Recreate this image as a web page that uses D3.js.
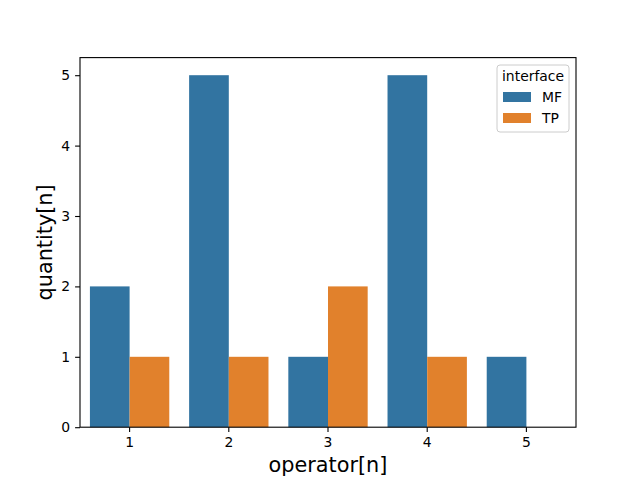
<!DOCTYPE html>
<html>
<head>
<meta charset="utf-8">
<script src="https://cdn.jsdelivr.net/npm/d3@7"></script>
<style>
  body { margin: 0; background: #fff; }
  text { font-family: "DejaVu Sans", sans-serif; fill: #000; }
</style>
</head>
<body>
<div id="wrapper"></div>
<script>
// data
const operators = ['1', '2', '3', '4', '5']
const interfaces = ['MF', 'TP']
const mfValues = [2, 5, 1, 5, 1]
const tpValues = [1, 1, 2, 1, 0]
const yTicks = [0, 1, 2, 3, 4, 5]
const colors = ['#3274a1', '#e1812c']

const rows = operators.flatMap((op, i) => [
  { op, iface: 'MF', value: mfValues[i] },
  { op, iface: 'TP', value: tpValues[i] },
])

const dimensions = {
  width: 640,
  height: 480,
  margin: { top: 57.6, right: 64, bottom: 52.8, left: 80 },
}
dimensions.boundedWidth = dimensions.width - dimensions.margin.left - dimensions.margin.right
dimensions.boundedHeight = dimensions.height - dimensions.margin.top - dimensions.margin.bottom

const wrapper = d3.select('#wrapper')
  .append('svg')
  .attr('width', dimensions.width)
  .attr('height', dimensions.height)

const bounds = wrapper.append('g')
  .attr('transform', `translate(${dimensions.margin.left},${dimensions.margin.top})`)

// scales
const xScale = d3.scaleBand()
  .domain(operators)
  .range([0, dimensions.boundedWidth])
  .paddingInner(0.2)
  .paddingOuter(0.1)

const hueScale = d3.scaleBand()
  .domain(interfaces)
  .range([0, xScale.bandwidth()])

const colorScale = d3.scaleOrdinal().domain(interfaces).range(colors)

const yScale = d3.scaleLinear()
  .domain([0, 5.25])
  .range([dimensions.boundedHeight, 0])

// bars
bounds.selectAll('.bar')
  .data(rows)
  .join('rect')
  .attr('class', 'bar')
  .attr('x', (d) => xScale(d.op) + hueScale(d.iface))
  .attr('width', hueScale.bandwidth())
  .attr('y', (d) => yScale(d.value))
  .attr('height', (d) => dimensions.boundedHeight - yScale(d.value))
  .attr('fill', (d) => colorScale(d.iface))

// axes
const xAxis = bounds.append('g')
  .attr('transform', `translate(0,${dimensions.boundedHeight})`)
  .call(d3.axisBottom(xScale).tickSizeOuter(0).tickSize(4.9).tickPadding(4.9))
const yAxis = bounds.append('g')
  .call(d3.axisLeft(yScale).tickValues(yTicks).tickFormat(d3.format('d')).tickSize(4.9).tickPadding(4.9).tickSizeOuter(0))

;[xAxis, yAxis].forEach((ax) => {
  ax.select('.domain').remove()
  ax.selectAll('line').attr('stroke', '#000').attr('stroke-width', 1.1)
  ax.selectAll('text').style('font-size', '13.9px').style('font-family', '"DejaVu Sans", sans-serif')
})

// frame
bounds.append('rect')
  .attr('width', dimensions.boundedWidth)
  .attr('height', dimensions.boundedHeight)
  .attr('fill', 'none')
  .attr('stroke', '#000')
  .attr('stroke-width', 1.1)

// axis labels
wrapper.append('text')
  .attr('x', dimensions.margin.left + dimensions.boundedWidth / 2)
  .attr('y', 472)
  .attr('text-anchor', 'middle')
  .style('font-size', '20.8px')
  .text('operator[n]')

wrapper.append('text')
  .attr('transform', `translate(52,${dimensions.margin.top + dimensions.boundedHeight / 2}) rotate(-90)`)
  .attr('text-anchor', 'middle')
  .style('font-size', '20.8px')
  .text('quantity[n]')

// legend
const legend = wrapper.append('g').attr('transform', 'translate(497,65)')
legend.append('rect')
  .attr('width', 72).attr('height', 67)
  .attr('rx', 3)
  .attr('fill', '#fff').attr('fill-opacity', 0.8)
  .attr('stroke', '#ccc').attr('stroke-width', 1)
legend.append('text')
  .attr('x', 36).attr('y', 16)
  .attr('text-anchor', 'middle')
  .style('font-size', '13.9px')
  .text('interface')
const items = legend.selectAll('.item')
  .data(interfaces)
  .join('g')
  .attr('transform', (d, i) => `translate(6,${27 + i * 21})`)
items.append('rect')
  .attr('width', 28).attr('height', 10)
  .attr('fill', (d) => colorScale(d))
items.append('text')
  .attr('x', 39).attr('y', 10)
  .style('font-size', '13.9px')
  .text((d) => d)
</script>
</body>
</html>
